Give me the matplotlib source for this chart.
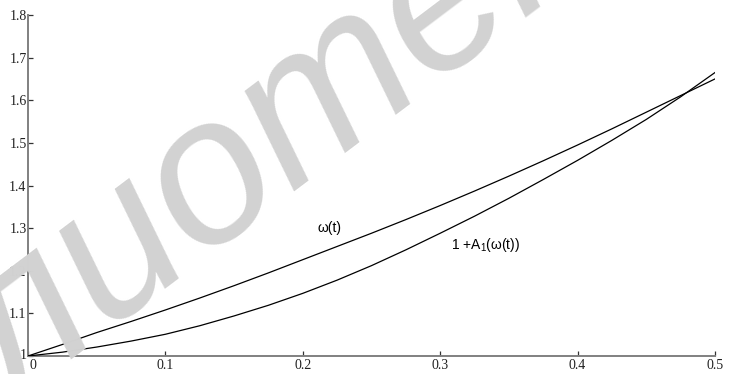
import matplotlib
matplotlib.use("Agg")
import matplotlib.pyplot as plt
import matplotlib.transforms as mtransforms

# ---- data ----
t_vals = [0.0, 0.025, 0.05, 0.075, 0.1, 0.125, 0.15, 0.175, 0.2, 0.225, 0.25,
          0.275, 0.3, 0.325, 0.35, 0.375, 0.4, 0.425, 0.45, 0.475, 0.5]
omega_vals = [1.000, 1.027, 1.055, 1.081, 1.108, 1.136, 1.165, 1.195, 1.226, 1.257, 1.288,
              1.320, 1.353, 1.387, 1.422, 1.458, 1.495, 1.533, 1.572, 1.611, 1.650]
a1_vals = [1.000, 1.009, 1.021, 1.035, 1.051, 1.071, 1.094, 1.119, 1.147, 1.178, 1.212,
           1.249, 1.288, 1.328, 1.370, 1.414, 1.459, 1.506, 1.555, 1.608, 1.665]

x_ticks = [0, 0.1, 0.2, 0.3, 0.4, 0.5]
x_tick_labels = ["0", "0.1", "0.2", "0.3", "0.4", "0.5"]
y_ticks = [1.0, 1.1, 1.2, 1.3, 1.4, 1.5, 1.6, 1.7, 1.8]
y_tick_labels = ["1", "1.1", "1.2", "1.3", "1.4", "1.5", "1.6", "1.7", "1.8"]

label_omega = "ω(t)"
label_a1 = r"1 +A$_\mathrm{1}$(ω(t))"
watermark = "Библиотека"

plt.rcParams["mathtext.fontset"] = "custom"
plt.rcParams["mathtext.rm"] = "Liberation Sans"
plt.rcParams["mathtext.it"] = "Liberation Sans:italic"

fig = plt.figure(figsize=(7.4, 3.74), dpi=100)
fig.patch.set_facecolor("white")
ax = fig.add_axes([0.0378, 0.0481, 0.9284, 0.9118])
ax.set_facecolor("none")

# watermark
fig.text(0.236, 0.44, watermark, fontsize=150, family="Liberation Sans",
         style="italic", color="#d2d2d2", rotation=37, ha="center", va="center",
         rotation_mode="anchor", zorder=0)

ax.plot(t_vals, omega_vals, color="black", lw=0.9, zorder=3)
ax.plot(t_vals, a1_vals, color="black", lw=0.9, zorder=3)

ax.set_xlim(0, 0.5)
ax.set_ylim(1.0, 1.8)

for s in ["top", "right"]:
    ax.spines[s].set_visible(False)
for s in ["left", "bottom"]:
    ax.spines[s].set_color("#808080")
    ax.spines[s].set_linewidth(1.4)

ax.set_xticks(x_ticks)
ax.set_xticklabels(x_tick_labels, family="Liberation Serif", fontsize=10, color="#222222")
ax.set_yticks(y_ticks)
ax.set_yticklabels(y_tick_labels, family="Liberation Serif", fontsize=10, color="#222222")
ax.tick_params(axis="both", direction="in", length=3.5, width=0.9, color="#333333")
ax.tick_params(axis="x", pad=2.5)
ax.tick_params(axis="y", pad=1.0)

# nudge the "0" x label right and the "1" y label up so they don't collide
first_x = ax.get_xticklabels()[0]
first_x.set_transform(first_x.get_transform() +
                      mtransforms.ScaledTranslation(5 / 100, 0, fig.dpi_scale_trans))
first_y = ax.get_yticklabels()[0]
first_y.set_transform(first_y.get_transform() +
                      mtransforms.ScaledTranslation(0, 2 / 100, fig.dpi_scale_trans))

ax.text(0.2198, 1.300, label_omega, fontsize=10, family="Liberation Sans",
        ha="center", va="center", zorder=4)
ax.text(0.308, 1.261, label_a1, fontsize=10, family="Liberation Sans",
        ha="left", va="center", zorder=4)

fig.savefig("out.png", dpi=100)
